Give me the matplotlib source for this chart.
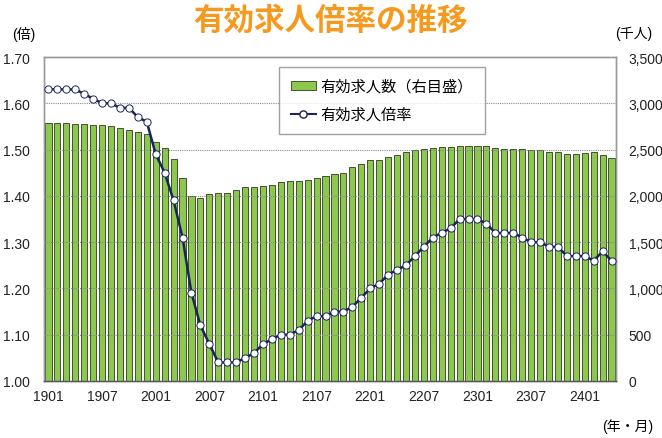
import numpy as np
import matplotlib
matplotlib.use('Agg')
import matplotlib.pyplot as plt
from matplotlib.patches import Patch
from matplotlib.lines import Line2D

plt.rcParams['font.family'] = ['Liberation Sans', 'Noto Sans CJK JP']

# 有効求人倍率 (倍), 2019/01 - 2024/04
ratio = [1.63, 1.63, 1.63, 1.63, 1.62, 1.61, 1.60, 1.60, 1.59, 1.59, 1.57, 1.56,
         1.49, 1.45, 1.39, 1.31, 1.19, 1.12, 1.08, 1.04, 1.04, 1.04, 1.05, 1.06,
         1.08, 1.09, 1.10, 1.10, 1.11, 1.13, 1.14, 1.14, 1.15, 1.15, 1.16, 1.18,
         1.20, 1.21, 1.23, 1.24, 1.25, 1.27, 1.29, 1.31, 1.32, 1.33, 1.35, 1.35,
         1.35, 1.34, 1.32, 1.32, 1.32, 1.31, 1.30, 1.30, 1.29, 1.29, 1.27, 1.27,
         1.27, 1.26, 1.28, 1.26]

# 有効求人数 (千人)
openings = [2783, 2783, 2783, 2776, 2776, 2769, 2762, 2751, 2738, 2716, 2690, 2670,
            2577, 2522, 2398, 2191, 2002, 1977, 2015, 2030, 2036, 2063, 2099, 2099,
            2106, 2119, 2146, 2164, 2164, 2173, 2193, 2218, 2234, 2247, 2310, 2347,
            2391, 2391, 2416, 2441, 2470, 2495, 2506, 2517, 2527, 2531, 2538, 2535,
            2535, 2542, 2518, 2510, 2506, 2502, 2492, 2492, 2479, 2470, 2455, 2452,
            2459, 2470, 2438, 2412]

tick_labels = ['1901', '1907', '2001', '2007', '2101', '2107', '2201',
               '2207', '2301', '2307', '2401']

x = np.arange(len(ratio))

fig = plt.figure(figsize=(6.62, 4.39), dpi=100)
ax = fig.add_axes([44/662, 1-382/439, 572/662, 324/439])
ax2 = ax.twinx()
ax.set_zorder(ax2.get_zorder() + 1)
ax.patch.set_visible(False)

# bars (right axis)
ax2.bar(x, openings, width=0.68, color='#8CC850', edgecolor='#2E3B1E', linewidth=0.6)
ax2.set_ylim(0, 3500)
ax2.set_yticks(range(0, 3501, 500))
ax2.set_yticklabels(['0', '500', '1,000', '1,500', '2,000', '2,500', '3,000', '3,500'])

# line (left axis)
ax.plot(x, ratio, color='#1B2559', linewidth=1.8, marker='o', markersize=5.2,
        markerfacecolor='white', markeredgecolor='#1B2559', markeredgewidth=0.7, zorder=5)
ax.set_ylim(1.0, 1.7)
ax.set_yticks(np.arange(1.0, 1.71, 0.1))
ax.set_yticklabels(['%.2f' % v for v in np.arange(1.0, 1.71, 0.1)])
ax.set_xlim(-0.5, len(x) - 0.5)
ax.set_xticks(x[::6])
ax.set_xticklabels(tick_labels)

for yv in np.arange(1.1, 1.65, 0.1):
    ax.axhline(yv, color='#8A8A8A', linewidth=0.8, linestyle=(0, (1, 1)), zorder=1)

for a in (ax, ax2):
    a.tick_params(length=0, labelsize=10, colors='#222222')
    for s in a.spines.values():
        s.set_color('#9A9A9A')
        s.set_linewidth(1.0)
ax.tick_params(axis='y', pad=10)
ax2.tick_params(axis='y', pad=9)
ax.tick_params(axis='x', pad=6)
ax.spines['bottom'].set_color('#555555')

handles = [Patch(facecolor='#8CC850', edgecolor='#2E3B1E', linewidth=0.6),
           Line2D([], [], color='#1B2559', linewidth=1.5, marker='o', markersize=5.2,
                  markerfacecolor='white', markeredgecolor='#1B2559')]
leg = ax.legend(handles, ['有効求人数（右目盛）', '有効求人倍率'],
                loc='upper left', bbox_to_anchor=(235/572, 1-10/324), borderaxespad=0,
                fontsize=11, frameon=True, fancybox=False, edgecolor='#8A8A8A',
                handlelength=1.6, handleheight=0.6, labelspacing=0.9,
                borderpad=0.8, handletextpad=0.3)
leg.get_frame().set_linewidth(1.0)

fig.text(0.5, 1-22/439, '有効求人倍率の推移', ha='center', va='center',
         fontsize=22, fontweight='bold', color='#F59A1E')
fig.text(24/662, 1-34/439, '(倍)', ha='center', va='center', fontsize=10)
fig.text(634/662, 1-34/439, '(千人)', ha='center', va='center', fontsize=10)
fig.text(628/662, 1-427/439, '(年・月)', ha='center', va='center', fontsize=10)

fig.savefig('out.png', dpi=100)
